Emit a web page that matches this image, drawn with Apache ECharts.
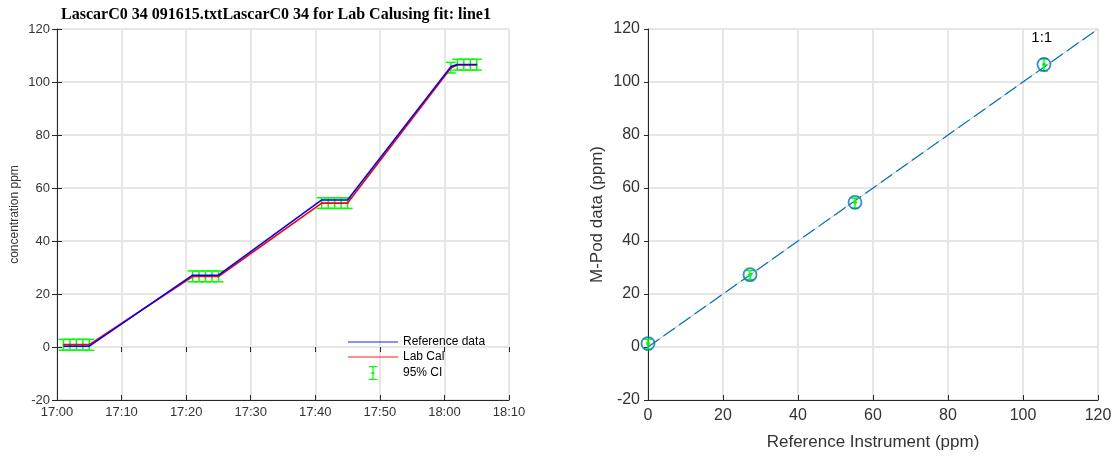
<!DOCTYPE html>
<html>
<head>
<meta charset="utf-8">
<style>
  html, body { margin: 0; padding: 0; background: #fff; }
  #chart { width: 1117px; height: 458px; }
</style>
<script src="https://cdn.jsdelivr.net/npm/echarts@6/dist/echarts.min.js"></script>
</head>
<body>
<div id="chart"></div>
<script>
// ---- Time series panel (minutes after 17:00) ----
const timeTickLabels = ['17:00', '17:10', '17:20', '17:30', '17:40', '17:50', '18:00', '18:10'];
const sampleMinutes = [1, 2, 3, 4, 5, 21, 22, 23, 24, 25, 41, 42, 43, 44, 45, 61, 62, 63, 64, 65];
const referenceData = [0.3, 0.3, 0.3, 0.3, 0.3, 27.1, 27.1, 27.1, 27.1, 27.1,
                       55.5, 55.5, 55.5, 55.5, 55.5, 105.8, 106.6, 106.6, 106.6, 106.6];
const labCal = [0.9, 0.9, 0.9, 0.9, 0.9, 26.6, 26.6, 26.6, 26.6, 26.6,
                54.3, 54.3, 54.3, 54.3, 54.3, 105.3, 106.4, 106.4, 106.4, 106.4];
const ciLow = [-1.2, -1.2, -1.2, -1.2, -1.2, 24.6, 24.6, 24.6, 24.6, 24.6,
               52.3, 52.3, 52.3, 52.3, 52.3, 103.4, 104.5, 104.5, 104.5, 104.5];
const ciHigh = [2.9, 2.9, 2.9, 2.9, 2.9, 28.7, 28.7, 28.7, 28.7, 28.7,
                56.3, 56.3, 56.3, 56.3, 56.3, 107.4, 108.6, 108.6, 108.6, 108.6];

// ---- Scatter panel: plateau means ----
const referenceMean = [0, 27.2, 55.2, 105.6];
const podMean = [1.3, 27.3, 54.6, 106.6];
const podLow = [-0.8, 25.4, 52.4, 104.2];
const podHigh = [3.0, 28.9, 56.2, 108.8];
const oneToOne = [[0, 0], [120, 120]];

const titleText = 'LascarC0 34 091615.txtLascarC0 34 for Lab Calusing fit: line1';

const axisColor = '#262626';
const gridColor = '#e6e6e6';

// legend glyphs
const lineIcon = 'path://M0,0 L50,0 L50,1.4 L0,1.4 Z';
const errorBarIcon = 'path://M0,0 H8 V1.2 H0 Z M0,12.8 H8 V14 H0 Z M3.4,1.2 H4.6 V12.8 H3.4 Z M2.6,6 H5.4 V8 H2.6 Z';

function errorBars(capHalf, color, dotR, lw) {
  return function (params, api) {
    const x = api.value(0);
    const pMid = api.coord([x, api.value(1)]);
    const pLo = api.coord([x, api.value(2)]);
    const pHi = api.coord([x, api.value(3)]);
    const style = { stroke: color, lineWidth: lw, fill: null };
    return {
      type: 'group',
      children: [
        { type: 'line', shape: { x1: pLo[0], y1: pLo[1], x2: pHi[0], y2: pHi[1] }, style: style },
        { type: 'line', shape: { x1: pLo[0] - capHalf, y1: pLo[1], x2: pLo[0] + capHalf, y2: pLo[1] }, style: style },
        { type: 'line', shape: { x1: pHi[0] - capHalf, y1: pHi[1], x2: pHi[0] + capHalf, y2: pHi[1] }, style: style },
        { type: 'circle', shape: { cx: pMid[0], cy: pMid[1], r: dotR }, style: { fill: color, stroke: null } }
      ]
    };
  };
}

const leftLine = sampleMinutes.map((t, i) => [t, referenceData[i]]);
const leftCal = sampleMinutes.map((t, i) => [t, labCal[i]]);
const leftCI = sampleMinutes.map((t, i) => [t, labCal[i], ciLow[i], ciHigh[i]]);
const scatterPts = referenceMean.map((x, i) => [x, podMean[i]]);
const scatterCI = referenceMean.map((x, i) => [x, podMean[i], podLow[i], podHigh[i]]);

const chart = echarts.init(document.getElementById('chart'), null, { renderer: 'canvas' });

const hiddenAxisBits = {
  axisLabel: { show: false },
  splitLine: { show: false },
  axisLine: { show: false },
  axisTick: { show: true, inside: true, length: 5, lineStyle: { color: axisColor } }
};

chart.setOption({
  animation: false,
  backgroundColor: '#fff',
  textStyle: { fontFamily: 'Liberation Sans, Arial, sans-serif' },
  graphic: [{
    type: 'text',
    x: 276, y: 15,
    style: {
      text: titleText,
      font: 'bold 16px "Liberation Serif", "DejaVu Serif", serif',
      fill: '#000',
      align: 'center',
      verticalAlign: 'middle'
    }
  }],
  legend: {
    data: [
      { name: 'Reference data', icon: lineIcon, itemStyle: { opacity: 0.6 } },
      { name: 'Lab Cal', icon: lineIcon, itemStyle: { opacity: 0.6 } },
      { name: '95% CI', icon: errorBarIcon }
    ],
    orient: 'vertical',
    left: 348,
    top: 336,
    padding: 0,
    itemWidth: 50,
    itemHeight: 14,
    itemGap: 3,
    symbolKeepAspect: true,
    textStyle: { fontSize: 12, color: '#000' },
    selectedMode: false
  },
  grid: [
    { left: 57, right: 608, top: 29, bottom: 58, show: true, borderColor: axisColor, borderWidth: 1, backgroundColor: 'transparent' },
    { left: 648, right: 19, top: 29, bottom: 58 }
  ],
  xAxis: [
    {
      gridIndex: 0, type: 'value', min: 0, max: 70, interval: 10,
      axisLine: { show: true, onZero: false, lineStyle: { color: axisColor } },
      axisTick: { show: true, inside: true, length: 5, lineStyle: { color: axisColor } },
      axisLabel: { fontSize: 13, color: '#333', margin: 6, formatter: v => timeTickLabels[Math.round(v / 10)] },
      splitLine: { show: true, lineStyle: { color: gridColor, width: 2 } }
    },
    Object.assign({ gridIndex: 0, type: 'value', min: 0, max: 70, interval: 10, position: 'top' }, hiddenAxisBits),
    {
      gridIndex: 1, type: 'value', min: 0, max: 120, interval: 20,
      name: 'Reference Instrument (ppm)', nameLocation: 'middle', nameGap: 34,
      nameTextStyle: { fontSize: 17, color: '#333' },
      axisLine: { show: true, onZero: false, lineStyle: { color: axisColor } },
      axisTick: { show: true, inside: true, length: 5, lineStyle: { color: axisColor } },
      axisLabel: { fontSize: 16, color: '#333', margin: 8 },
      splitLine: { show: true, lineStyle: { color: gridColor, width: 2 } }
    }
  ],
  yAxis: [
    {
      gridIndex: 0, type: 'value', min: -20, max: 120, interval: 20,
      name: 'concentration ppm', nameLocation: 'middle', nameGap: 36,
      nameTextStyle: { fontSize: 12, color: '#333' },
      axisLine: { show: true, onZero: false, lineStyle: { color: axisColor } },
      axisTick: { show: true, inside: true, length: 5, lineStyle: { color: axisColor } },
      axisLabel: { fontSize: 13, color: '#333', margin: 7 },
      splitLine: { show: true, lineStyle: { color: gridColor, width: 2 } }
    },
    Object.assign({ gridIndex: 0, type: 'value', min: -20, max: 120, interval: 20, position: 'right' }, hiddenAxisBits),
    {
      gridIndex: 1, type: 'value', min: -20, max: 120, interval: 20,
      name: 'M-Pod data (ppm)', nameLocation: 'middle', nameGap: 42,
      nameTextStyle: { fontSize: 17, color: '#333' },
      axisLine: { show: true, onZero: false, lineStyle: { color: axisColor } },
      axisTick: { show: true, inside: false, length: 4, lineStyle: { color: axisColor } },
      axisLabel: { fontSize: 16, color: '#333', margin: 8 },
      splitLine: { show: true, lineStyle: { color: gridColor, width: 2 } }
    }
  ],
  series: [
    {
      name: '95% CI', type: 'custom', xAxisIndex: 0, yAxisIndex: 0, z: 2,
      renderItem: errorBars(5, '#00ff00', 1.2, 1.5),
      data: leftCI,
      encode: { x: 0, y: [1, 2, 3] },
      itemStyle: { color: '#00ff00' }
    },
    {
      name: 'Reference data', type: 'line', xAxisIndex: 0, yAxisIndex: 0, z: 4,
      data: leftLine, symbol: 'none', showSymbol: false,
      lineStyle: { color: '#0000ff', width: 1.6 }, itemStyle: { color: '#0000ff' }
    },
    {
      name: 'Lab Cal', type: 'line', xAxisIndex: 0, yAxisIndex: 0, z: 3,
      data: leftCal, symbol: 'none', showSymbol: false,
      lineStyle: { color: '#ff0000', width: 1.6 }, itemStyle: { color: '#ff0000' }
    },
    {
      name: '1:1 base', type: 'line', xAxisIndex: 2, yAxisIndex: 2, z: 2,
      data: oneToOne, symbol: 'none',
      lineStyle: { color: '#c8c8c8', width: 1 },
      markPoint: {
        symbol: 'circle', symbolSize: 0,
        label: { show: true, formatter: '1:1', fontSize: 15, color: '#000', position: 'inside' },
        data: [{ coord: [105, 116.8] }]
      }
    },
    {
      name: '1:1', type: 'line', xAxisIndex: 2, yAxisIndex: 2, z: 3,
      data: oneToOne, symbol: 'none',
      lineStyle: { color: '#0072bd', width: 1.2, type: [14, 5] }
    },
    {
      name: 'M-Pod CI', type: 'custom', xAxisIndex: 2, yAxisIndex: 2, z: 4,
      renderItem: errorBars(4, '#00ff00', 2, 1.5),
      data: scatterCI,
      encode: { x: 0, y: [1, 2, 3] }
    },
    {
      name: 'M-Pod', type: 'scatter', xAxisIndex: 2, yAxisIndex: 2, z: 5,
      data: scatterPts, symbol: 'circle', symbolSize: 13,
      itemStyle: { color: 'rgba(0,0,0,0)', borderColor: '#0072bd', borderWidth: 1.8 }
    }
  ]
});
</script>
</body>
</html>
